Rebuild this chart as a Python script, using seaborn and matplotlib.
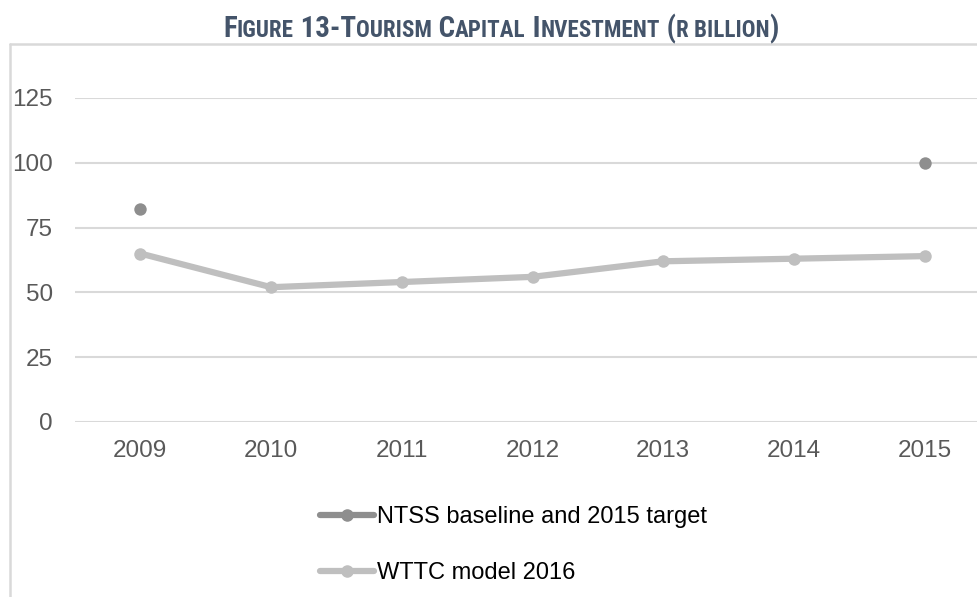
import matplotlib
matplotlib.use("Agg")
import matplotlib.pyplot as plt
import seaborn as sns
import pandas as pd
import numpy as np
from matplotlib.lines import Line2D
from matplotlib import font_manager as fm

years = ["2009", "2010", "2011", "2012", "2013", "2014", "2015"]
wttc = [65, 52, 54, 56, 62, 63, 64]
ntss_years = ["2009", "2015"]
ntss = [82, 100]
yticks = [0, 25, 50, 75, 100, 125]
title_pieces = [("F", "L"), ("IGURE", "S"), (" 13-T", "L"), ("OURISM", "S"),
                (" C", "L"), ("APITAL", "S"), (" I", "L"), ("NVESTMENT", "S"),
                (" (", "L"), ("R BILLION", "S"), (")", "L")]

sns.set_theme(style="white")
plt.rcParams['font.family'] = ['Liberation Sans', 'DejaVu Sans']

W, H = 977, 597
fig = plt.figure(figsize=(W / 100, H / 100), dpi=100)
ax = fig.add_axes([75 / W, (H - 422) / H, (990 - 75) / W, (422 - 98) / H])

c_wttc = "#bfbfbf"
c_ntss = "#8e8e8e"
df_w = pd.DataFrame({"x": np.arange(len(years)), "y": wttc})
sns.lineplot(data=df_w, x="x", y="y", ax=ax, color=c_wttc, linewidth=4.5,
             marker="o", markersize=9, markeredgewidth=0, zorder=3)
df_n = pd.DataFrame({"x": [years.index(y) for y in ntss_years], "y": ntss})
sns.scatterplot(data=df_n, x="x", y="y", ax=ax, color=c_ntss, s=80,
                linewidth=0, zorder=4)

ax.set_xlim(-0.5, len(years) - 0.5)
ax.set_ylim(0, 125)
ax.set_xticks(range(len(years)))
ax.set_xticklabels(years)
ax.set_yticks(yticks)
ax.set_yticklabels([str(v) for v in yticks])
ax.set_xlabel("")
ax.set_ylabel("")
ax.grid(axis="y", color="#d9d9d9", linewidth=1.5)
ax.grid(axis="x", visible=False)
for s in ax.spines.values():
    s.set_visible(False)
ax.tick_params(axis="both", length=0, labelsize=17.5, labelcolor="#595959")
ax.tick_params(axis="y", pad=16)
ax.tick_params(axis="x", pad=13)

# chart frame (left and top)
fig.add_artist(Line2D([10 / W, 10 / W], [0, 1 - 44 / H], transform=fig.transFigure,
                      color="#d9d9d9", linewidth=1.8))
fig.add_artist(Line2D([10 / W, 1], [1 - 44 / H, 1 - 44 / H], transform=fig.transFigure,
                      color="#d9d9d9", linewidth=1.8))

# legend
handles = [Line2D([], [], color=c_ntss, linewidth=4.5, marker="o", markersize=8),
           Line2D([], [], color=c_wttc, linewidth=4.5, marker="o", markersize=8)]
labels = ["NTSS baseline and 2015 target", "WTTC model 2016"]
fig.legend(handles, labels, loc="upper left", bbox_to_anchor=(320 / W, 1 - 506 / H),
           frameon=False, fontsize=17, handlelength=2.3, handletextpad=0.12,
           labelspacing=1.45, labelcolor="#000000", borderpad=0, borderaxespad=0)

# small-caps title
avail = {f.name for f in fm.fontManager.ttflist}
tfam = [f for f in ['Liberation Sans Narrow', 'Roboto Condensed', 'Arial Narrow', 'Roboto']
        if f in avail] + ['DejaVu Sans']
narrow = tfam[0] in ('Liberation Sans Narrow', 'Roboto Condensed', 'Arial Narrow')
big, small = (20.8, 16.6) if narrow else (18.5, 14.8)
tcol = "#44546a"
texts = []
for txt, sz in title_pieces:
    t = fig.text(0, 1 - 37 / H, txt, fontsize=big if sz == "L" else small,
                 fontweight="bold", color=tcol, family=tfam, ha="left", va="baseline")
    texts.append(t)
fig.canvas.draw()
r = fig.canvas.get_renderer()
widths = [t.get_window_extent(r).width for t in texts]
total = sum(widths)
x = 501 - total / 2
for t, w in zip(texts, widths):
    t.set_x(x / W)
    x += w

fig.savefig("out.png", dpi=100)
